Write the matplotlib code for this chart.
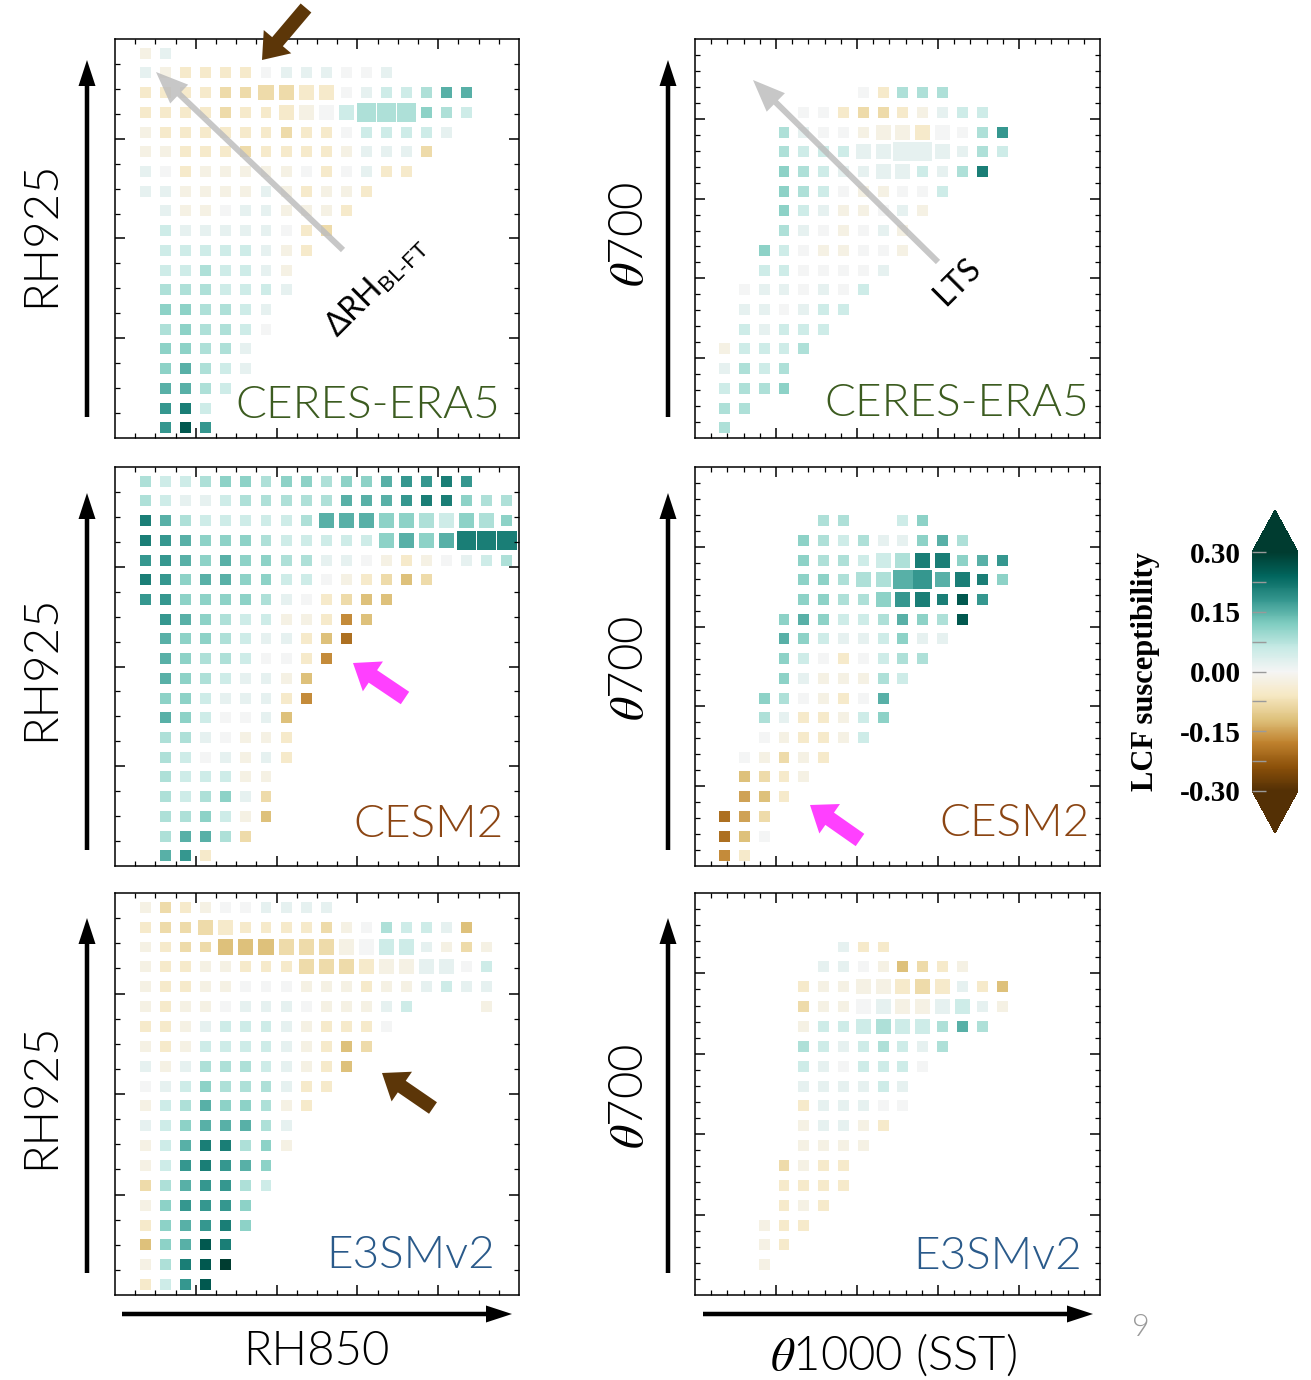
"""LCF susceptibility binned by humidity / stability, three datasets x two spaces.

Each square is one bin: colour = susceptibility, bigger squares = more samples.
"""
import numpy as np
import matplotlib
matplotlib.use("Agg")
import matplotlib.pyplot as plt
from matplotlib.colors import Normalize
from matplotlib.patches import FancyArrow
import matplotlib.cm as cm

plt.rcParams["font.family"] = ["Lato", "DejaVu Sans"]
plt.rcParams["mathtext.fontset"] = "stix"

W, H = 1311, 1380
CMAP = plt.get_cmap("BrBG")
NORM = Normalize(-0.3, 0.3)
LIGHT = 300   # Lato Light

# colour code of a bin (brown < 0 < teal); upper case = large square
CODE = {"p": -0.20, "o": -0.17, "n": -0.15, "m": -0.12, "l": -0.08, "k": -0.05, "j": -0.02,
        "z": 0.0, "a": 0.02, "b": 0.05, "c": 0.08, "d": 0.11, "e": 0.15, "f": 0.18,
        "g": 0.21, "h": 0.26, "i": 0.32}

# grids, top row first, one char per bin column ('.' = no data)
CERES_RH = ["ja",
            "ajkkkkzaaazza",
            "kkkkllLLKKzabbcee",
            "kkkklkkKJZBCCCdcb",
            "jkkkkkklkkzbbbba",
            "jjkkklkkkkjaaal",
            "azkjjjjjzkzakk",
            "aajjjjajkjjk",
            ".ajjzaajjjk",
            ".baaaaazkl",
            ".bbbbbajk",
            ".bbcbbaj",
            ".cccbbba",
            ".ddccba",
            ".cdccbz",
            ".ddcca",
            ".decba",
            ".eecb",
            ".fgb",
            ".fhf"]
CERES_RH_HUGE = [(16, 11), (16, 12), (16, 13)]

CERES_TH = [".......zkccc",
            "....zzkllkjabb",
            "...cazzjJJKZzcf",
            "...cbbbAAAAAacb",
            "...dcbaaAAbacg",
            "...dcbzjjzzb",
            "...dbajjzaj",
            "...cazjzaj",
            "..dbzjjzzj",
            "..bbzzzza",
            ".zaazazb",
            ".aazabb",
            ".babbb",
            "jbbbc",
            "acbc",
            "bccd",
            "cc",
            "c"]
CERES_TH_HUGE = [(14, 9), (14, 10)]

CESM_RH = ["cbbcddcddcddeffgf",
           "cbaabccccceeefggdcc",
           "gecbbbbbcEEEDDCBDCd",
           "gfedddcbbbbbDEDEGGG",
           "ffededdccaazjkjzabc",
           "gfdeeddbbzjklml",
           "ffddddcazklmm",
           ".fedcbbjjkom",
           ".eddcbaakmp",
           ".edccbzzko",
           ".edcbaajm",
           ".ddbaaako",
           ".edbzzam",
           ".ccazjjk",
           ".cbzajak",
           ".cbbbjj",
           ".cbcdal",
           ".ccdbjm",
           ".ceecl",
           ".efk"]
CESM_RH_HUGE = [(16, 16), (16, 17), (16, 18)]

CESM_TH = [".....cc..bd",
           "....dcbcaadec",
           "....dccbBCGGdef",
           "....ddcCCEFEGgd",
           "....ddccDFGghf",
           "...dedbbcedch",
           "...edbaabdaa",
           "...dbzkzbcc",
           "...dajjjcb",
           "..dczjkze",
           "..cakkjbd",
           "..zjkkjb",
           ".zjljk",
           ".mlkj",
           ".nmk",
           "pnl",
           "pmz",
           "ok"]
CESM_TH_HUGE = [(14, 9), (14, 10)]

E3SM_RH = ["jlkjzzaaaa",
           "kllLKkkkkljzcbbam",
           "jkllMMMLLLJZBBajlj",
           "jkkjjkkkLLLKJJAAzb",
           "jkkjjzzzjjjkjjabaa",
           "jkjjzaaazjjjab...j",
           "kkjabbbajkkkz",
           "jkjbbbbajkml",
           "ajacccbajkm",
           "zabdcccakk",
           "jbceddcjk",
           "abdeeeca",
           "jbeggcdj",
           "jbfgfed",
           "lceffcb",
           "jdfffd",
           "kdefgd",
           "mdehg",
           "jcghi",
           "kbfh"]

E3SM_TH = ["......akk",
           ".....aazjmlkj",
           "....kjjJJKLKakm",
           "....ljjZAJJABaj",
           "....jbbBCBBcec",
           "....cbabcbac",
           "....bazbbbz",
           "....aaaaba",
           "....kaaazz",
           "....jaajk",
           "....jjjj",
           "...ljkk",
           "...kkkk",
           "...kjk",
           "..jkk",
           "..jk",
           "..j",
           ""]

NAMES = ["CERES-ERA5", "CESM2", "E3SMv2"]
NAME_COLORS = ["#3c5c20", "#8b4513", "#2a5a8a"]


def decode(rows, huge):
    xs, ys, vals, sizes = [], [], [], []
    n = len(rows)
    for i, row in enumerate(rows):
        r = n - 1 - i
        for c, ch in enumerate(row):
            if ch == ".":
                continue
            xs.append(c); ys.append(r); vals.append(CODE[ch.lower()])
            if (r, c) in huge:
                sizes.append(190)
            elif ch.isupper():
                sizes.append(118)
            else:
                sizes.append(62)
    return np.array(xs), np.array(ys), np.array(vals), np.array(sizes)


fig = plt.figure(figsize=(W / 100, H / 100), dpi=100)

COLS = [(115, 404, (-1.52, 18.6), 20, 4, 16, 4),      # x0, width, xlim, nx, majx, ny, majy
        (695, 405, (-1.49, 18.94), 25, 5, 25, 5)]
ROWS = [(39, 438), (467, 866), (893, 1295)]
PANELS = [[(CERES_RH, CERES_RH_HUGE), (CERES_TH, CERES_TH_HUGE)],
          [(CESM_RH, CESM_RH_HUGE), (CESM_TH, CESM_TH_HUGE)],
          [(E3SM_RH, []), (E3SM_TH, [])]]
TITLE_POS = [[(0.953, 0.05), (0.973, 0.056)],
             [(0.962, 0.073), (0.975, 0.075)],
             [(0.94, 0.067), (0.956, 0.065)]]
YLIM = (-0.52, 19.72)

for ri, (y0, y1) in enumerate(ROWS):
    for ci, (x0, w, xlim, nx, mx, ny, my) in enumerate(COLS):
        ax = fig.add_axes([x0 / W, 1 - y1 / H, w / W, (y1 - y0) / H])
        rows, huge = PANELS[ri][ci]
        xs, ys, vals, sizes = decode(rows, huge)
        ax.scatter(xs, ys, s=sizes, c=vals, cmap=CMAP, norm=NORM, marker="s", linewidths=0)
        ax.set_xlim(*xlim); ax.set_ylim(*YLIM)
        # ticks sit at fixed fractions of the frame
        fx = np.arange(1, nx) / nx
        fy = np.arange(1, ny) / ny
        tx = xlim[0] + fx * (xlim[1] - xlim[0])
        ty = YLIM[0] + fy * (YLIM[1] - YLIM[0])
        ax.set_xticks(tx[(np.arange(1, nx) % mx) == 0])
        ax.set_xticks(tx[(np.arange(1, nx) % mx) != 0], minor=True)
        ax.set_yticks(ty[(np.arange(1, ny) % my) == 0])
        ax.set_yticks(ty[(np.arange(1, ny) % my) != 0], minor=True)
        ax.tick_params(which="both", direction="in", top=True, right=True,
                       labelbottom=False, labelleft=False)
        ax.tick_params(which="major", length=7, width=1.1)
        ax.tick_params(which="minor", length=3.5, width=0.9)
        for sp in ax.spines.values():
            sp.set_linewidth(1.1)
        tpx, tpy = TITLE_POS[ri][ci]
        ax.text(tpx, tpy, NAMES[ri], transform=ax.transAxes, ha="right", va="baseline",
                fontsize=33, color=NAME_COLORS[ri], fontweight=LIGHT)

# colour bar (axes box includes the two triangles)
cax = fig.add_axes([1252 / W, 1 - 833 / H, 46 / W, 323 / H])
sm = cm.ScalarMappable(norm=NORM, cmap=CMAP)
cb = fig.colorbar(sm, cax=cax, extend="both", extendfrac=0.176)
cb.set_ticks([-0.3, -0.15, 0.0, 0.15, 0.3], labels=["-0.30", "-0.15", "0.00", "0.15", "0.30"])
cb.set_ticks([-0.225, -0.075, 0.075, 0.225], minor=True)
cb.outline.set_visible(False)
cax.yaxis.set_ticks_position("left")
cax.tick_params(which="both", direction="in", length=10, width=1, color="#9a9a9a",
                labelsize=21, pad=8)
for t in cax.get_yticklabels():
    t.set_fontfamily("Liberation Serif"); t.set_fontweight("bold")
fig.text(1145 / W, 1 - 672 / H, "LCF susceptibility", rotation=90, ha="center", va="center",
         fontsize=22, fontfamily="Liberation Serif", fontweight="bold")

# overlay in pixel units for axis arrows, labels and annotations
ov = fig.add_axes([0, 0, 1, 1], zorder=10)
ov.set_xlim(0, W); ov.set_ylim(H, 0)
ov.set_axis_off()


def arrow(x0, y0, x1, y1, width, hw, hl, color, alpha=1.0):
    ov.add_patch(FancyArrow(x0, y0, x1 - x0, y1 - y0, width=width, head_width=hw,
                            head_length=hl, length_includes_head=True, color=color,
                            alpha=alpha, lw=0))


for (bot, tip) in [(417, 60), (850, 493), (1273, 918)]:
    arrow(87, bot, 87, tip, 4.5, 17, 26, "black")
    arrow(668, bot, 668, tip, 4.5, 17, 26, "black")
arrow(122, 1314, 512, 1314, 4.5, 17, 26, "black")
arrow(703, 1314, 1093, 1314, 4.5, 17, 26, "black")

lab = dict(fontsize=34, ha="center", va="center", fontweight=LIGHT)
for yc in [234, 668, 1096]:
    ov.text(41, yc, "RH925", rotation=90, **lab)
    ov.text(630, yc, r"$\theta$700", rotation=90, **lab)
ov.text(316, 1352, "RH850", **lab)
ov.text(893, 1355, r"$\theta$1000 (SST)", **lab)
ov.text(1141, 1328, "9", fontsize=22, color="#9a9a9a", ha="center", va="center",
        fontweight=LIGHT)

# annotation arrows
arrow(343, 250, 156, 72, 6, 26, 32, "#bdbdbd", 0.85)
arrow(938, 262, 753, 80, 6, 26, 32, "#bdbdbd", 0.85)
ov.text(376, 286, "ΔRH$_{\\mathregular{BL\u2010FT}}$", rotation=45, fontsize=23,
        ha="center", va="center", rotation_mode="anchor")
ov.text(957, 282, "LTS", rotation=45, fontsize=23, ha="center", va="center",
        rotation_mode="anchor")
arrow(306, 8, 262, 60, 14, 36, 24, "#5c3608")
arrow(433, 1108, 382, 1073, 14, 36, 24, "#5c3608")
arrow(405, 698, 353, 663, 15, 36, 24, "#ff40ff")
arrow(860, 840, 810, 805, 15, 36, 24, "#ff40ff")

fig.savefig("out.png", dpi=100)
